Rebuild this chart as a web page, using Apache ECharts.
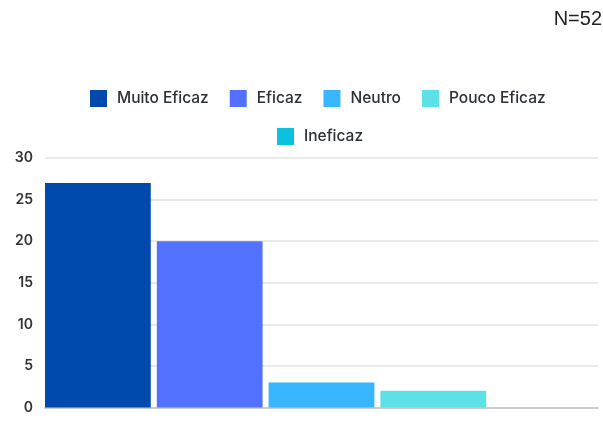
<!DOCTYPE html>
<html><head><meta charset="utf-8">
<script src="https://cdn.jsdelivr.net/npm/echarts@6/dist/echarts.min.js"></script>
<style>html,body{margin:0;padding:0;background:#fff}#c{width:603px;height:437px}</style>
</head><body><div id="c"></div>
<script>
const seriesNames = ['Muito Eficaz', 'Eficaz', 'Neutro', 'Pouco Eficaz', 'Ineficaz'];
const seriesValues = [27, 20, 3, 2, 0];
const seriesColors = ['#004AAD', '#5271FF', '#38B6FF', '#5CE1E6', '#0CC0DF'];
const categories = [''];
const yTicks = [0, 5, 10, 15, 20, 25, 30];

const chart = echarts.init(document.getElementById('c'));
const legendText = {fontFamily: 'Inter', fontSize: 15.5, fontWeight: 500, color: '#2b2f36', padding: [0, 0, 0, 5]};
const legendCommon = {itemWidth: 17, itemHeight: 17, itemGap: 21, icon: 'rect', textStyle: legendText};
chart.setOption({
  animation: false,
  color: seriesColors,
  graphic: [{type: 'text', right: 1, top: 9, style: {text: 'N=52', font: '20px "Liberation Sans"', fill: '#222'}}],
  legend: [
    Object.assign({data: seriesNames.slice(0, 4), top: 85, left: 85}, legendCommon),
    Object.assign({data: seriesNames.slice(4), top: 123, left: 272}, legendCommon)
  ],
  grid: {left: 45, right: 5, top: 158, bottom: 29.5, containLabel: false},
  xAxis: {type: 'category', data: categories, axisTick: {show: false}, axisLabel: {show: false},
    axisLine: {lineStyle: {color: '#c8ccd2', width: 2}}},
  yAxis: {type: 'value', min: yTicks[0], max: yTicks[yTicks.length - 1], interval: 5,
    axisLabel: {fontFamily: 'Inter', fontSize: 14, color: '#333', fontWeight: 600, margin: 12},
    splitLine: {lineStyle: {color: '#e3e3e3', width: 1.5}}},
  series: seriesNames.map((n, i) => ({
    name: n, type: 'bar', data: [seriesValues[i]],
    barCategoryGap: '0%', barGap: '5.7%',
    itemStyle: {color: seriesColors[i]}
  }))
});
</script></body></html>
